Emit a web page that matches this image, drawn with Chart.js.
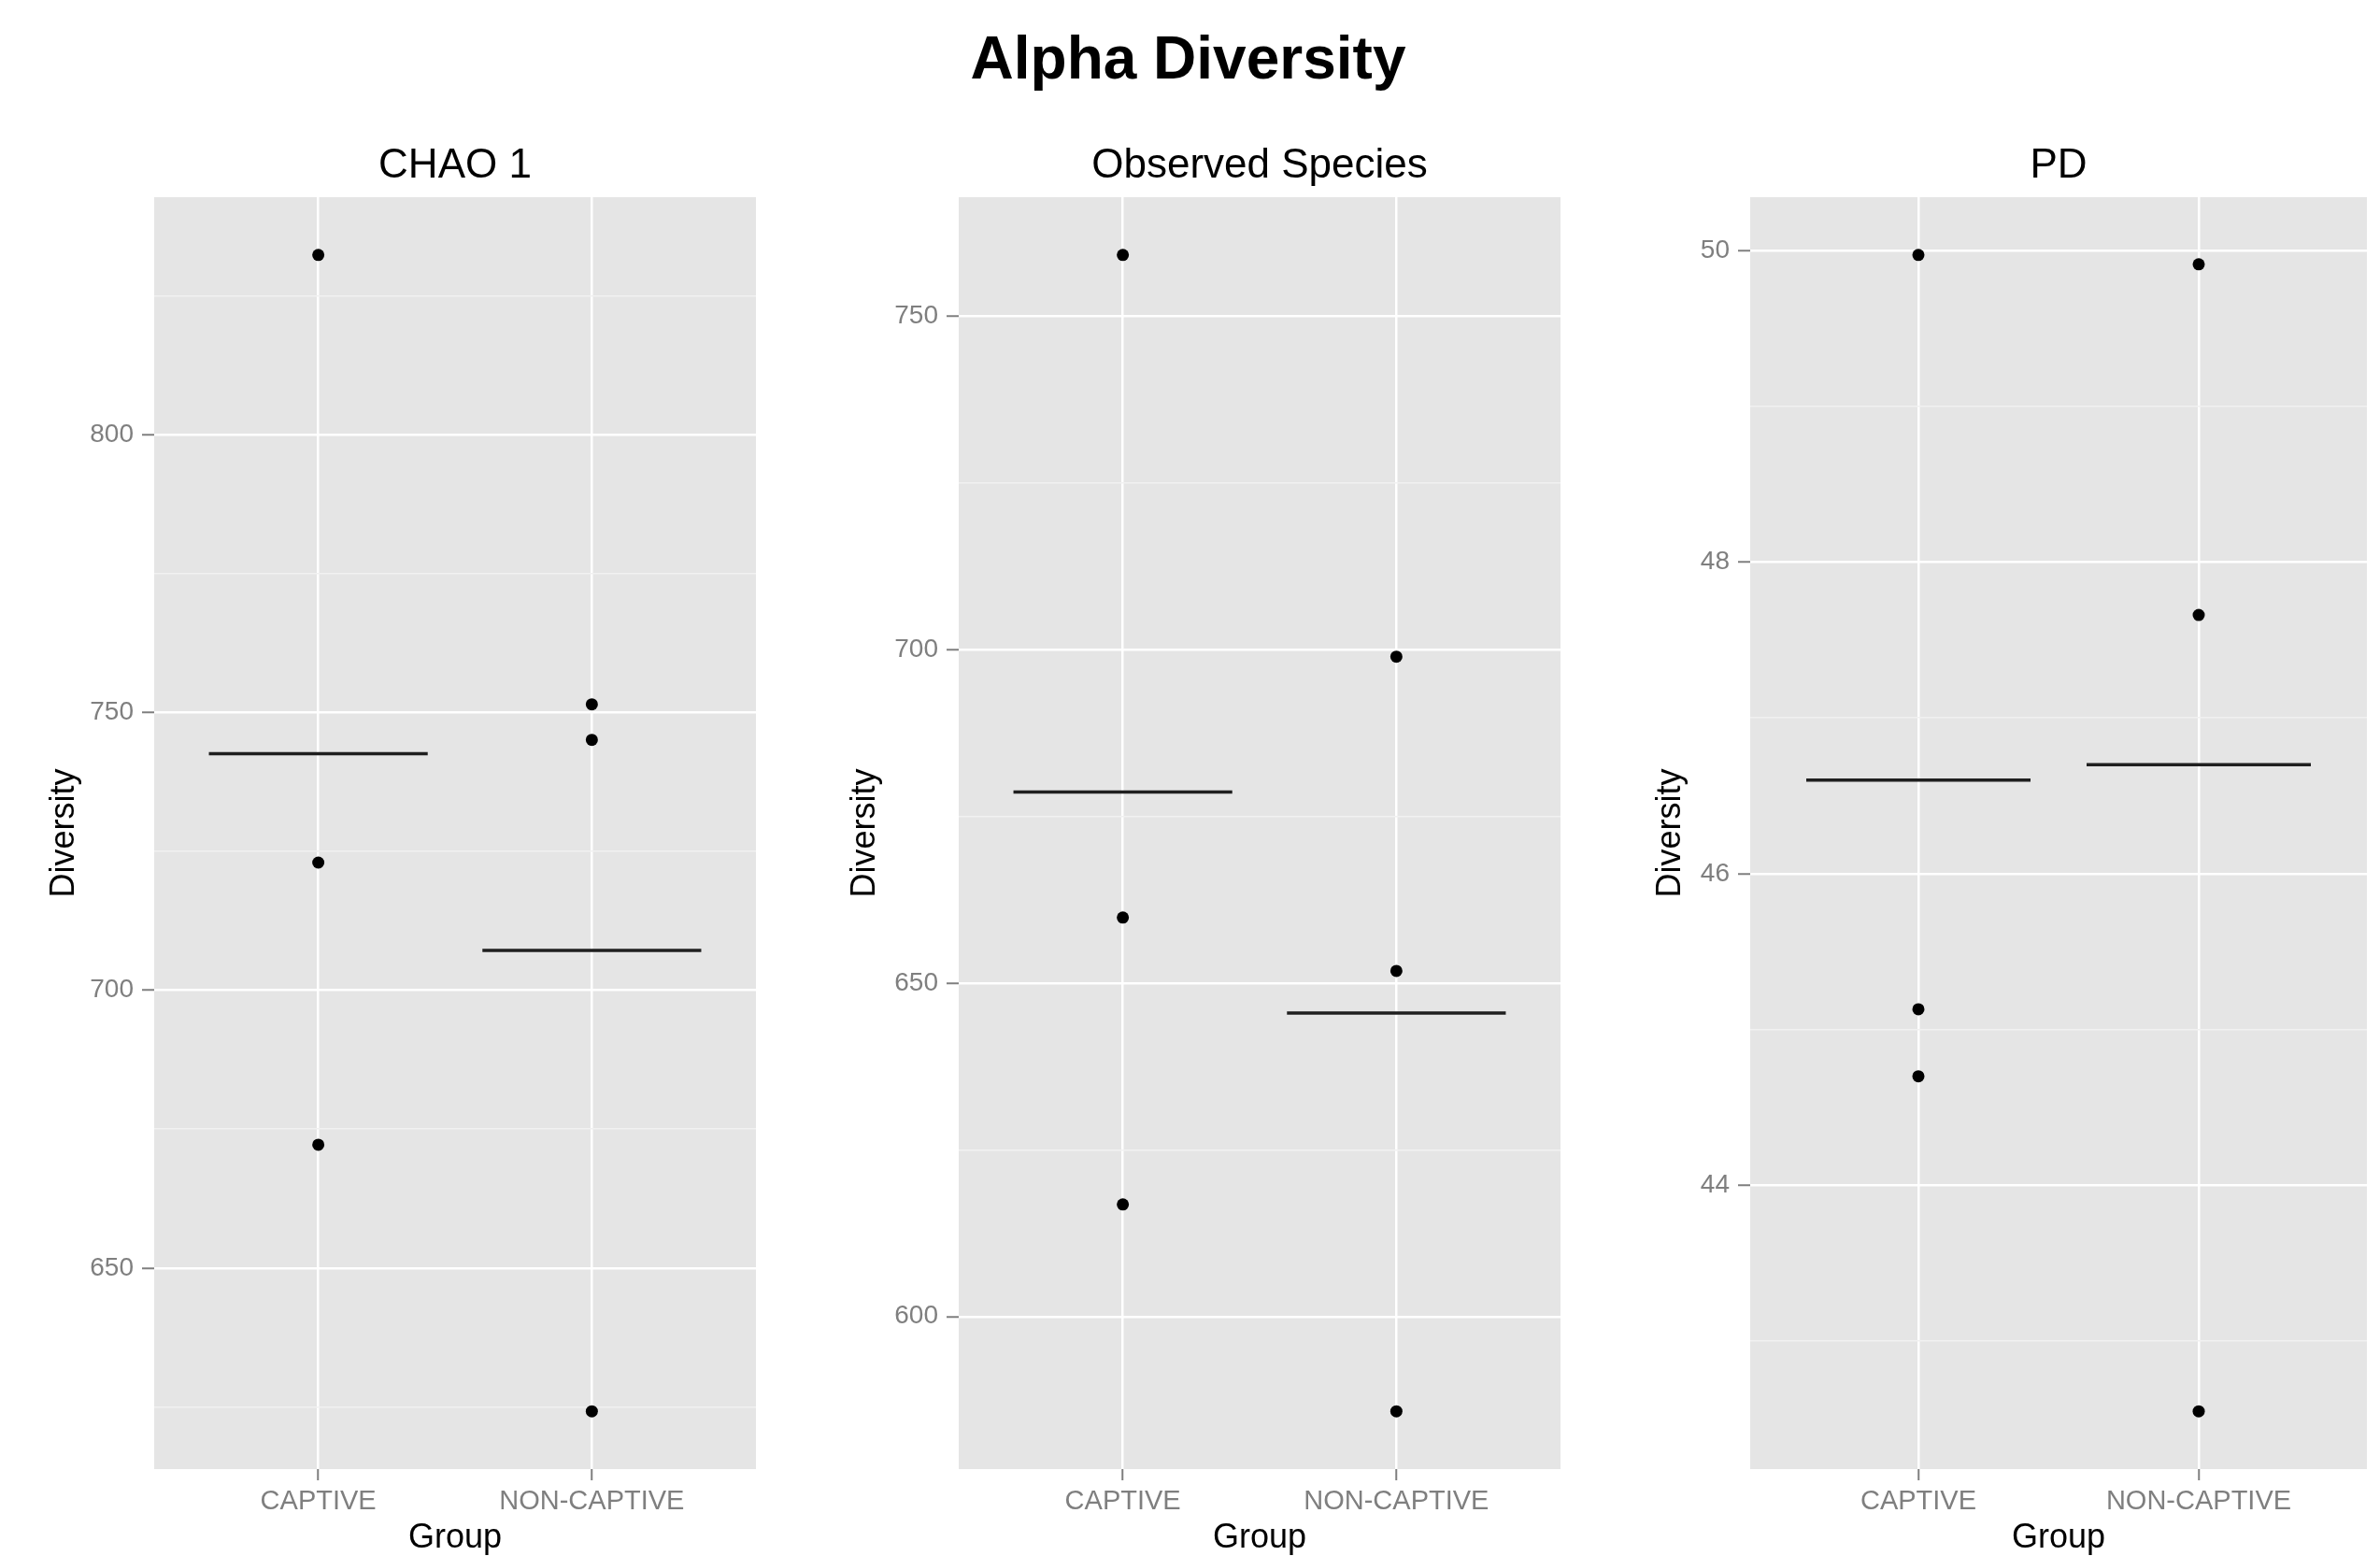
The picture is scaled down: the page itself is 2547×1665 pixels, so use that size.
<!DOCTYPE html>
<html>
<head>
<meta charset="utf-8">
<title>Alpha Diversity</title>
<script src="https://cdn.jsdelivr.net/npm/chart.js@4.4.1/dist/chart.umd.min.js"></script>
<style>
  html, body { margin: 0; padding: 0; background: #fff; overflow: hidden; }
  #pagina { position: relative; width: 2547px; height: 1665px; }
  #titulo {
    position: absolute; left: 0; top: 30px; width: 2543px; text-align: center;
    font: bold 64px "Liberation Sans", Arial, Helvetica, sans-serif; line-height: 64px; color: #000;
  }
  canvas { position: absolute; top: 0; }
</style>
</head>
<body>
<div id="pagina">
  <div id="titulo">Alpha Diversity</div>
  <canvas id="chao" width="830" height="1665" style="left:0px;width:830px;height:1665px"></canvas>
  <canvas id="observed" width="830" height="1665" style="left:860px;width:830px;height:1665px"></canvas>
  <canvas id="pd" width="847" height="1665" style="left:1700px;width:847px;height:1665px"></canvas>
</div>
<script>
// Datos
const grupos = ['CAPTIVE', 'NON-CAPTIVE'];

const chaoCaptive = [832.4, 723.0, 672.2];
const chaoNonCaptive = [751.5, 745.1, 624.2];
const chaoMedias = [742.6, 707.2];
const chaoTicks = [650, 700, 750, 800];
const chaoMinor = [625, 675, 725, 775, 825];

const obsCaptive = [759.1, 659.8, 616.8];
const obsNonCaptive = [698.9, 651.8, 585.8];
const obsMedias = [678.6, 645.5];
const obsTicks = [600, 650, 700, 750];
const obsMinor = [625, 675, 725];

const pdCaptive = [49.97, 45.13, 44.70];
const pdNonCaptive = [49.91, 47.66, 42.55];
const pdMedias = [46.60, 46.70];
const pdTicks = [44, 46, 48, 50];
const pdMinor = [43, 45, 47, 49];

const fuente = '"Liberation Sans", Arial, Helvetica, sans-serif';

// Fondo gris del panel (estilo ggplot)
const fondoPanel = {
    id: 'fondoPanel',
    beforeDraw(chart) {
        const a = chart.chartArea;
        const c = chart.ctx;
        c.save();
        c.fillStyle = '#e5e5e5';
        c.fillRect(a.left, a.top, a.right - a.left, a.bottom - a.top);
        c.restore();
    }
};

// Título de cada panel centrado sobre el área del gráfico
const tituloPanel = {
    id: 'tituloPanel',
    afterDraw(chart, args, opts) {
        const a = chart.chartArea;
        const c = chart.ctx;
        c.save();
        c.font = '44px ' + fuente;
        c.fillStyle = '#000';
        c.textAlign = 'center';
        c.textBaseline = 'middle';
        c.fillText(opts.text, (a.left + a.right) / 2, 178);
        c.restore();
    }
};

function crearPanel(p) {
    const ctx = document.getElementById(p.id).getContext('2d');
    const todos = p.captive.concat(p.nonCaptive);
    const lo = Math.min(...todos);
    const hi = Math.max(...todos);
    const margen = (hi - lo) * 0.05;
    const yTicks = p.ticks.concat(p.minor).sort((a, b) => a - b);
    const esMayor = c => c.tick && p.ticks.includes(c.tick.value);

    const puntos = p.captive.map(v => ({ x: 1, y: v }))
        .concat(p.nonCaptive.map(v => ({ x: 2, y: v })));

    const lineasMedia = p.medias.map((m, i) => ({
        type: 'line',
        data: [{ x: i + 1 - 0.4, y: m }, { x: i + 1 + 0.4, y: m }],
        borderColor: '#1f1f1f',
        borderWidth: 3.5,
        pointRadius: 0,
        fill: false
    }));

    return new Chart(ctx, {
        type: 'scatter',
        data: {
            datasets: [{
                data: puntos,
                backgroundColor: '#000',
                borderColor: '#000',
                pointRadius: 6.5,
                pointBorderWidth: 0
            }].concat(lineasMedia)
        },
        options: {
            responsive: false,
            animation: false,
            layout: { padding: { top: 211, right: p.padRight, left: 0, bottom: 0 } },
            plugins: {
                legend: { display: false },
                tooltip: { enabled: false },
                tituloPanel: { text: p.titulo }
            },
            scales: {
                x: {
                    type: 'linear',
                    min: 0.4,
                    max: 2.6,
                    afterBuildTicks: s => { s.ticks = [{ value: 1 }, { value: 2 }]; },
                    afterFit: s => { s.height = 93; },
                    grid: { color: '#ffffff', lineWidth: 2.5, tickColor: '#7f7f7f', tickLength: 12, tickWidth: 2 },
                    border: { display: false },
                    ticks: {
                        callback: v => grupos[v - 1],
                        color: '#7f7f7f',
                        font: { size: 29, family: fuente, lineHeight: 1 },
                        padding: 8,
                        maxRotation: 0,
                        autoSkip: false
                    },
                    title: {
                        display: true, text: 'Group', color: '#000',
                        font: { size: 36, family: fuente, lineHeight: 1 },
                        padding: { top: 0, bottom: 1 }
                    }
                },
                y: {
                    type: 'linear',
                    min: lo - margen,
                    max: hi + margen,
                    afterBuildTicks: s => { s.ticks = yTicks.map(v => ({ value: v })); },
                    afterFit: s => { s.width = p.yWidth; },
                    grid: {
                        color: c => esMayor(c) ? '#ffffff' : '#f1f1f1',
                        lineWidth: c => esMayor(c) ? 2.5 : 1.5,
                        tickColor: c => esMayor(c) ? '#7f7f7f' : 'rgba(0,0,0,0)',
                        tickLength: 13,
                        tickWidth: 2
                    },
                    border: { display: false },
                    ticks: {
                        callback: v => p.ticks.includes(v) ? String(v) : '',
                        color: '#7f7f7f',
                        font: { size: 28, family: fuente, lineHeight: 1 },
                        padding: 9,
                        autoSkip: false
                    },
                    title: {
                        display: true, text: 'Diversity', color: '#000',
                        font: { size: 36, family: fuente, lineHeight: 1 },
                        padding: { top: p.yTitlePad, bottom: 0 }
                    }
                }
            }
        },
        plugins: [fondoPanel, tituloPanel]
    });
}

crearPanel({ id: 'chao', titulo: 'CHAO 1', captive: chaoCaptive, nonCaptive: chaoNonCaptive,
    medias: chaoMedias, ticks: chaoTicks, minor: chaoMinor, yWidth: 165, padRight: 21, yTitlePad: 51 });
crearPanel({ id: 'observed', titulo: 'Observed Species', captive: obsCaptive, nonCaptive: obsNonCaptive,
    medias: obsMedias, ticks: obsTicks, minor: obsMinor, yWidth: 166, padRight: 20, yTitlePad: 48 });
crearPanel({ id: 'pd', titulo: 'PD', captive: pdCaptive, nonCaptive: pdNonCaptive,
    medias: pdMedias, ticks: pdTicks, minor: pdMinor, yWidth: 173, padRight: 14, yTitlePad: 70 });
</script>
</body>
</html>
